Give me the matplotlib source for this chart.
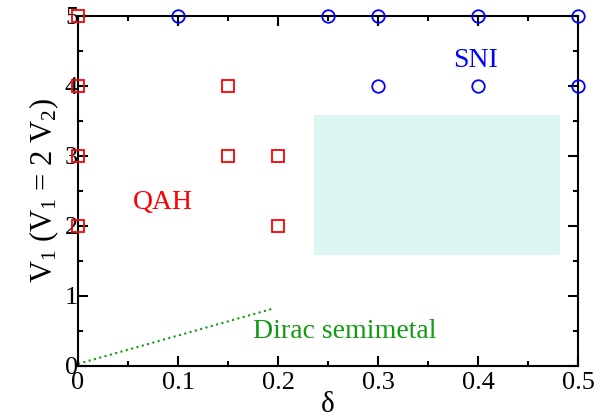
import matplotlib
matplotlib.use("Agg")
import matplotlib.pyplot as plt
from matplotlib.patches import Rectangle
from matplotlib.ticker import MultipleLocator

plt.rcParams['font.family'] = ['Liberation Serif', 'DejaVu Serif']
plt.rcParams['mathtext.fontset'] = 'custom'
plt.rcParams['mathtext.rm'] = 'Liberation Serif'
plt.rcParams['mathtext.it'] = 'Liberation Serif'

# data
qah_delta = [0, 0, 0, 0, 0.15, 0.15, 0.2, 0.2]
qah_v1 = [5, 4, 3, 2, 4, 3, 3, 2]
sni_delta = [0.1, 0.25, 0.3, 0.4, 0.5, 0.3, 0.4, 0.5]
sni_v1 = [5, 5, 5, 5, 5, 4, 4, 4]
dirac_delta = [0.0, 0.195]
dirac_v1 = [0.03, 0.82]
region_delta = [0.236, 0.482]
region_v1 = [1.59, 3.58]

fig = plt.figure(figsize=(5.94, 4.18), dpi=100)
ax = fig.add_axes([78/594, 52/418, 500/594, 350/418])

ax.add_patch(Rectangle((region_delta[0], region_v1[0]),
                       region_delta[1]-region_delta[0], region_v1[1]-region_v1[0],
                       facecolor='#ddf6f3', edgecolor='none', zorder=0))

ax.plot(dirac_delta, dirac_v1, linestyle=':', color='#129a12', linewidth=1.5, zorder=2)

ax.plot(qah_delta, qah_v1, linestyle='none', marker='s', markersize=8,
        markerfacecolor='none', markeredgecolor='red', markeredgewidth=1.3,
        clip_on=False, zorder=5)
ax.plot(sni_delta, sni_v1, linestyle='none', marker='o', markersize=9,
        markerfacecolor='none', markeredgecolor='blue', markeredgewidth=1.3,
        clip_on=False, zorder=5)

ax.text(0.085, 2.33, 'QAH', color='red', fontsize=20, ha='center', va='center')
ax.text(0.397, 4.37, 'SNI', color='blue', fontsize=20, ha='center', va='center')
ax.text(0.2665, 0.49, 'Dirac semimetal', color='#129a12', fontsize=20, ha='center', va='center')

ax.set_xlim(0, 0.5)
ax.set_ylim(0, 5)
ax.xaxis.set_major_locator(MultipleLocator(0.1))
ax.xaxis.set_minor_locator(MultipleLocator(0.05))
ax.yaxis.set_major_locator(MultipleLocator(1))
ax.yaxis.set_minor_locator(MultipleLocator(0.5))
ax.set_xticks([0, 0.1, 0.2, 0.3, 0.4, 0.5])
ax.set_xticklabels(['0', '0.1', '0.2', '0.3', '0.4', '0.5'])
ax.set_yticks([0, 1, 2, 3, 4, 5])
ax.set_yticklabels(['0', '1', '2', '3', '4', '5'])

ax.tick_params(which='both', direction='in', top=True, right=True, width=1.5, labelsize=19)
ax.tick_params(axis='x', pad=4)
ax.tick_params(axis='y', pad=0)
ax.tick_params(which='major', length=7)
ax.tick_params(which='minor', length=3.5)
for s in ax.spines.values():
    s.set_linewidth(1.5)

ax.set_xlabel('δ', fontsize=21, labelpad=-1)
ax.set_ylabel(r'V$_1$ (V$_1$ = 2 V$_2$)', fontsize=22, labelpad=3)

fig.savefig('out.png', dpi=100)
